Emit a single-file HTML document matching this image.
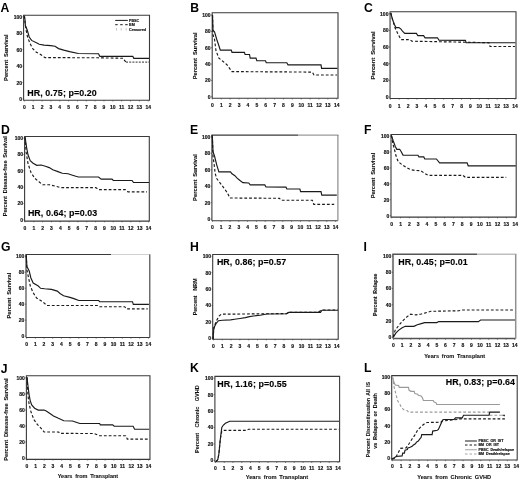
<!DOCTYPE html>
<html><head><meta charset="utf-8"><style>
html,body{margin:0;padding:0;background:#fff;width:520px;height:480px;overflow:hidden}
svg{display:block;will-change:transform}
text{font-family:"Liberation Sans", sans-serif}
</style></head><body>
<svg width="520" height="480" viewBox="0 0 520 480">

<g>
<path d="M23.6 15.3 H149.5 V100.3 H23.6 Z" fill="none" stroke="#3a3a3a" stroke-width="1.1"/>
<text x="22" y="100.97" font-size="5.0" text-anchor="end" font-weight="bold" fill="#111" stroke="#111" stroke-width="0.15">0</text>
<line x1="22.4" y1="99" x2="23.6" y2="99" stroke="#3a3a3a" stroke-width="0.6"/>
<text x="22" y="84.55" font-size="5.0" text-anchor="end" font-weight="bold" fill="#111" stroke="#111" stroke-width="0.15">20</text>
<line x1="22.4" y1="82.58" x2="23.6" y2="82.58" stroke="#3a3a3a" stroke-width="0.6"/>
<text x="22" y="68.13" font-size="5.0" text-anchor="end" font-weight="bold" fill="#111" stroke="#111" stroke-width="0.15">40</text>
<line x1="22.4" y1="66.16" x2="23.6" y2="66.16" stroke="#3a3a3a" stroke-width="0.6"/>
<text x="22" y="51.71" font-size="5.0" text-anchor="end" font-weight="bold" fill="#111" stroke="#111" stroke-width="0.15">60</text>
<line x1="22.4" y1="49.74" x2="23.6" y2="49.74" stroke="#3a3a3a" stroke-width="0.6"/>
<text x="22" y="35.29" font-size="5.0" text-anchor="end" font-weight="bold" fill="#111" stroke="#111" stroke-width="0.15">80</text>
<line x1="22.4" y1="33.32" x2="23.6" y2="33.32" stroke="#3a3a3a" stroke-width="0.6"/>
<text x="22" y="18.87" font-size="5.0" text-anchor="end" font-weight="bold" fill="#111" stroke="#111" stroke-width="0.15">100</text>
<line x1="22.4" y1="16.9" x2="23.6" y2="16.9" stroke="#3a3a3a" stroke-width="0.6"/>
<text x="24.4" y="108.87" font-size="5.0" text-anchor="middle" font-weight="bold" fill="#111" stroke="#111" stroke-width="0.15">0</text>
<line x1="24.4" y1="100.3" x2="24.4" y2="101.5" stroke="#3a3a3a" stroke-width="0.6"/>
<text x="33.24" y="108.87" font-size="5.0" text-anchor="middle" font-weight="bold" fill="#111" stroke="#111" stroke-width="0.15">1</text>
<line x1="33.24" y1="100.3" x2="33.24" y2="101.5" stroke="#3a3a3a" stroke-width="0.6"/>
<text x="42.08" y="108.87" font-size="5.0" text-anchor="middle" font-weight="bold" fill="#111" stroke="#111" stroke-width="0.15">2</text>
<line x1="42.08" y1="100.3" x2="42.08" y2="101.5" stroke="#3a3a3a" stroke-width="0.6"/>
<text x="50.92" y="108.87" font-size="5.0" text-anchor="middle" font-weight="bold" fill="#111" stroke="#111" stroke-width="0.15">3</text>
<line x1="50.92" y1="100.3" x2="50.92" y2="101.5" stroke="#3a3a3a" stroke-width="0.6"/>
<text x="59.76" y="108.87" font-size="5.0" text-anchor="middle" font-weight="bold" fill="#111" stroke="#111" stroke-width="0.15">4</text>
<line x1="59.76" y1="100.3" x2="59.76" y2="101.5" stroke="#3a3a3a" stroke-width="0.6"/>
<text x="68.6" y="108.87" font-size="5.0" text-anchor="middle" font-weight="bold" fill="#111" stroke="#111" stroke-width="0.15">5</text>
<line x1="68.6" y1="100.3" x2="68.6" y2="101.5" stroke="#3a3a3a" stroke-width="0.6"/>
<text x="77.44" y="108.87" font-size="5.0" text-anchor="middle" font-weight="bold" fill="#111" stroke="#111" stroke-width="0.15">6</text>
<line x1="77.44" y1="100.3" x2="77.44" y2="101.5" stroke="#3a3a3a" stroke-width="0.6"/>
<text x="86.28" y="108.87" font-size="5.0" text-anchor="middle" font-weight="bold" fill="#111" stroke="#111" stroke-width="0.15">7</text>
<line x1="86.28" y1="100.3" x2="86.28" y2="101.5" stroke="#3a3a3a" stroke-width="0.6"/>
<text x="95.12" y="108.87" font-size="5.0" text-anchor="middle" font-weight="bold" fill="#111" stroke="#111" stroke-width="0.15">8</text>
<line x1="95.12" y1="100.3" x2="95.12" y2="101.5" stroke="#3a3a3a" stroke-width="0.6"/>
<text x="103.96" y="108.87" font-size="5.0" text-anchor="middle" font-weight="bold" fill="#111" stroke="#111" stroke-width="0.15">9</text>
<line x1="103.96" y1="100.3" x2="103.96" y2="101.5" stroke="#3a3a3a" stroke-width="0.6"/>
<text x="112.8" y="108.87" font-size="5.0" text-anchor="middle" font-weight="bold" fill="#111" stroke="#111" stroke-width="0.15">10</text>
<line x1="112.8" y1="100.3" x2="112.8" y2="101.5" stroke="#3a3a3a" stroke-width="0.6"/>
<text x="121.64" y="108.87" font-size="5.0" text-anchor="middle" font-weight="bold" fill="#111" stroke="#111" stroke-width="0.15">11</text>
<line x1="121.64" y1="100.3" x2="121.64" y2="101.5" stroke="#3a3a3a" stroke-width="0.6"/>
<text x="130.48" y="108.87" font-size="5.0" text-anchor="middle" font-weight="bold" fill="#111" stroke="#111" stroke-width="0.15">12</text>
<line x1="130.48" y1="100.3" x2="130.48" y2="101.5" stroke="#3a3a3a" stroke-width="0.6"/>
<text x="139.32" y="108.87" font-size="5.0" text-anchor="middle" font-weight="bold" fill="#111" stroke="#111" stroke-width="0.15">13</text>
<line x1="139.32" y1="100.3" x2="139.32" y2="101.5" stroke="#3a3a3a" stroke-width="0.6"/>
<text x="148.16" y="108.87" font-size="5.0" text-anchor="middle" font-weight="bold" fill="#111" stroke="#111" stroke-width="0.15">14</text>
<line x1="148.16" y1="100.3" x2="148.16" y2="101.5" stroke="#3a3a3a" stroke-width="0.6"/>
<text x="0.6" y="11.5" font-size="12.2" text-anchor="start" font-weight="bold" fill="#000">A</text>
<text x="8.3" y="57.7" font-size="5.6" text-anchor="middle" font-weight="bold" fill="#111" transform="rotate(-90 8.3 57.7)" stroke="#111" stroke-width="0.1" textLength="46.6" lengthAdjust="spacingAndGlyphs" word-spacing="1.2">Percent Survival</text>
<text x="27.3" y="96.4" font-size="8.9" text-anchor="start" font-weight="bold" fill="#000" stroke="#000" stroke-width="0.12" letter-spacing="0.07">HR, 0.75; p=0.20</text>
<path d="M24.4 15.8 L25 20 L25.4 25.5 L27.3 30.3 L29.2 37 L31.6 40.4 L36.4 42.75 L39.25 44.2 L44 45.1 L50.75 45.6 L55 46.2 L58.6 48.6 L63.75 50.1 L69.6 51.6 L78.3 53.5 L98.5 53.8 L99.8 56.3 L132.8 56.3 L133.8 58.3 L149 58.3" fill="none" stroke="#1a1a1a" stroke-width="1.15" stroke-linejoin="miter" opacity="1.0"/>
<path d="M24.4 15.8 L25 22 L25.8 28.4 L27.3 36 L29.7 42.75 L32.5 48.5 L36.4 52.3 L40.2 54.25 L45 57.6 L98 57.8 L123.5 58.3 L124.5 60.4 L126 62.1" fill="none" stroke="#1a1a1a" stroke-width="1.15" stroke-dasharray="2.8 2.0" stroke-linejoin="miter" opacity="1.0"/>
<path d="M126 62.1 L149 62.1" fill="none" stroke="#5a5a5a" stroke-width="1.15" stroke-dasharray="2 1.2" stroke-linejoin="miter" opacity="1.0"/>
<path d="M212.2 12.8 H338 V98.3 H212.2 Z" fill="none" stroke="#3a3a3a" stroke-width="1.1"/>
<text x="210.6" y="98.72" font-size="5.0" text-anchor="end" font-weight="bold" fill="#111" stroke="#111" stroke-width="0.15">0</text>
<line x1="211" y1="96.75" x2="212.2" y2="96.75" stroke="#3a3a3a" stroke-width="0.6"/>
<text x="210.6" y="82.37" font-size="5.0" text-anchor="end" font-weight="bold" fill="#111" stroke="#111" stroke-width="0.15">20</text>
<line x1="211" y1="80.4" x2="212.2" y2="80.4" stroke="#3a3a3a" stroke-width="0.6"/>
<text x="210.6" y="66.02" font-size="5.0" text-anchor="end" font-weight="bold" fill="#111" stroke="#111" stroke-width="0.15">40</text>
<line x1="211" y1="64.05" x2="212.2" y2="64.05" stroke="#3a3a3a" stroke-width="0.6"/>
<text x="210.6" y="49.67" font-size="5.0" text-anchor="end" font-weight="bold" fill="#111" stroke="#111" stroke-width="0.15">60</text>
<line x1="211" y1="47.7" x2="212.2" y2="47.7" stroke="#3a3a3a" stroke-width="0.6"/>
<text x="210.6" y="33.32" font-size="5.0" text-anchor="end" font-weight="bold" fill="#111" stroke="#111" stroke-width="0.15">80</text>
<line x1="211" y1="31.35" x2="212.2" y2="31.35" stroke="#3a3a3a" stroke-width="0.6"/>
<text x="210.6" y="16.97" font-size="5.0" text-anchor="end" font-weight="bold" fill="#111" stroke="#111" stroke-width="0.15">100</text>
<line x1="211" y1="15" x2="212.2" y2="15" stroke="#3a3a3a" stroke-width="0.6"/>
<text x="212.4" y="107.27" font-size="5.0" text-anchor="middle" font-weight="bold" fill="#111" stroke="#111" stroke-width="0.15">0</text>
<line x1="212.4" y1="98.3" x2="212.4" y2="99.5" stroke="#3a3a3a" stroke-width="0.6"/>
<text x="221.28" y="107.27" font-size="5.0" text-anchor="middle" font-weight="bold" fill="#111" stroke="#111" stroke-width="0.15">1</text>
<line x1="221.28" y1="98.3" x2="221.28" y2="99.5" stroke="#3a3a3a" stroke-width="0.6"/>
<text x="230.16" y="107.27" font-size="5.0" text-anchor="middle" font-weight="bold" fill="#111" stroke="#111" stroke-width="0.15">2</text>
<line x1="230.16" y1="98.3" x2="230.16" y2="99.5" stroke="#3a3a3a" stroke-width="0.6"/>
<text x="239.04" y="107.27" font-size="5.0" text-anchor="middle" font-weight="bold" fill="#111" stroke="#111" stroke-width="0.15">3</text>
<line x1="239.04" y1="98.3" x2="239.04" y2="99.5" stroke="#3a3a3a" stroke-width="0.6"/>
<text x="247.92" y="107.27" font-size="5.0" text-anchor="middle" font-weight="bold" fill="#111" stroke="#111" stroke-width="0.15">4</text>
<line x1="247.92" y1="98.3" x2="247.92" y2="99.5" stroke="#3a3a3a" stroke-width="0.6"/>
<text x="256.8" y="107.27" font-size="5.0" text-anchor="middle" font-weight="bold" fill="#111" stroke="#111" stroke-width="0.15">5</text>
<line x1="256.8" y1="98.3" x2="256.8" y2="99.5" stroke="#3a3a3a" stroke-width="0.6"/>
<text x="265.68" y="107.27" font-size="5.0" text-anchor="middle" font-weight="bold" fill="#111" stroke="#111" stroke-width="0.15">6</text>
<line x1="265.68" y1="98.3" x2="265.68" y2="99.5" stroke="#3a3a3a" stroke-width="0.6"/>
<text x="274.56" y="107.27" font-size="5.0" text-anchor="middle" font-weight="bold" fill="#111" stroke="#111" stroke-width="0.15">7</text>
<line x1="274.56" y1="98.3" x2="274.56" y2="99.5" stroke="#3a3a3a" stroke-width="0.6"/>
<text x="283.44" y="107.27" font-size="5.0" text-anchor="middle" font-weight="bold" fill="#111" stroke="#111" stroke-width="0.15">8</text>
<line x1="283.44" y1="98.3" x2="283.44" y2="99.5" stroke="#3a3a3a" stroke-width="0.6"/>
<text x="292.32" y="107.27" font-size="5.0" text-anchor="middle" font-weight="bold" fill="#111" stroke="#111" stroke-width="0.15">9</text>
<line x1="292.32" y1="98.3" x2="292.32" y2="99.5" stroke="#3a3a3a" stroke-width="0.6"/>
<text x="301.2" y="107.27" font-size="5.0" text-anchor="middle" font-weight="bold" fill="#111" stroke="#111" stroke-width="0.15">10</text>
<line x1="301.2" y1="98.3" x2="301.2" y2="99.5" stroke="#3a3a3a" stroke-width="0.6"/>
<text x="310.08" y="107.27" font-size="5.0" text-anchor="middle" font-weight="bold" fill="#111" stroke="#111" stroke-width="0.15">11</text>
<line x1="310.08" y1="98.3" x2="310.08" y2="99.5" stroke="#3a3a3a" stroke-width="0.6"/>
<text x="318.96" y="107.27" font-size="5.0" text-anchor="middle" font-weight="bold" fill="#111" stroke="#111" stroke-width="0.15">12</text>
<line x1="318.96" y1="98.3" x2="318.96" y2="99.5" stroke="#3a3a3a" stroke-width="0.6"/>
<text x="327.84" y="107.27" font-size="5.0" text-anchor="middle" font-weight="bold" fill="#111" stroke="#111" stroke-width="0.15">13</text>
<line x1="327.84" y1="98.3" x2="327.84" y2="99.5" stroke="#3a3a3a" stroke-width="0.6"/>
<text x="336.72" y="107.27" font-size="5.0" text-anchor="middle" font-weight="bold" fill="#111" stroke="#111" stroke-width="0.15">14</text>
<line x1="336.72" y1="98.3" x2="336.72" y2="99.5" stroke="#3a3a3a" stroke-width="0.6"/>
<text x="190.3" y="12.1" font-size="12.2" text-anchor="start" font-weight="bold" fill="#000">B</text>
<text x="196.75" y="55.85" font-size="5.6" text-anchor="middle" font-weight="bold" fill="#111" transform="rotate(-90 196.75 55.85)" stroke="#111" stroke-width="0.1" textLength="46.9" lengthAdjust="spacingAndGlyphs" word-spacing="1.2">Percent Survival</text>
<path d="M212.5 15 L213 30.4 L214.5 31.9 L216.7 39.2 L218.9 45.7 L220.3 50.1 L231.25 50.1 L232 52.3 L244.4 52.3 L245.1 54.5 L249.5 54.5 L250.2 58.1 L256 58.1 L256.8 60.75 L265.5 60.75 L266.25 62.7 L286.8 62.7 L288 64.8 L321 64.8 L321.6 68.4 L337.4 68.4" fill="none" stroke="#1a1a1a" stroke-width="1.15" stroke-linejoin="miter" opacity="1.0"/>
<path d="M212.5 15 L213 34.8 L214.5 39.2 L216 50.8 L218.9 58.1 L222.5 61 L226.9 64.7 L232 71.6 L312.3 72.1 L314 75 L337 75" fill="none" stroke="#1a1a1a" stroke-width="1.15" stroke-dasharray="2.8 2.0" stroke-linejoin="miter" opacity="1.0"/>
<path d="M390.05 11.75 H516 V98.5 H390.05 Z" fill="none" stroke="#3a3a3a" stroke-width="1.1"/>
<text x="388.45" y="98.97" font-size="5.0" text-anchor="end" font-weight="bold" fill="#111" stroke="#111" stroke-width="0.15">0</text>
<line x1="388.85" y1="97" x2="390.05" y2="97" stroke="#3a3a3a" stroke-width="0.6"/>
<text x="388.45" y="82.33" font-size="5.0" text-anchor="end" font-weight="bold" fill="#111" stroke="#111" stroke-width="0.15">20</text>
<line x1="388.85" y1="80.36" x2="390.05" y2="80.36" stroke="#3a3a3a" stroke-width="0.6"/>
<text x="388.45" y="65.69" font-size="5.0" text-anchor="end" font-weight="bold" fill="#111" stroke="#111" stroke-width="0.15">40</text>
<line x1="388.85" y1="63.72" x2="390.05" y2="63.72" stroke="#3a3a3a" stroke-width="0.6"/>
<text x="388.45" y="49.05" font-size="5.0" text-anchor="end" font-weight="bold" fill="#111" stroke="#111" stroke-width="0.15">60</text>
<line x1="388.85" y1="47.08" x2="390.05" y2="47.08" stroke="#3a3a3a" stroke-width="0.6"/>
<text x="388.45" y="32.41" font-size="5.0" text-anchor="end" font-weight="bold" fill="#111" stroke="#111" stroke-width="0.15">80</text>
<line x1="388.85" y1="30.44" x2="390.05" y2="30.44" stroke="#3a3a3a" stroke-width="0.6"/>
<text x="388.45" y="15.77" font-size="5.0" text-anchor="end" font-weight="bold" fill="#111" stroke="#111" stroke-width="0.15">100</text>
<line x1="388.85" y1="13.8" x2="390.05" y2="13.8" stroke="#3a3a3a" stroke-width="0.6"/>
<text x="390.25" y="107.77" font-size="5.0" text-anchor="middle" font-weight="bold" fill="#111" stroke="#111" stroke-width="0.15">0</text>
<line x1="390.25" y1="98.5" x2="390.25" y2="99.7" stroke="#3a3a3a" stroke-width="0.6"/>
<text x="399.16" y="107.77" font-size="5.0" text-anchor="middle" font-weight="bold" fill="#111" stroke="#111" stroke-width="0.15">1</text>
<line x1="399.16" y1="98.5" x2="399.16" y2="99.7" stroke="#3a3a3a" stroke-width="0.6"/>
<text x="408.07" y="107.77" font-size="5.0" text-anchor="middle" font-weight="bold" fill="#111" stroke="#111" stroke-width="0.15">2</text>
<line x1="408.07" y1="98.5" x2="408.07" y2="99.7" stroke="#3a3a3a" stroke-width="0.6"/>
<text x="416.98" y="107.77" font-size="5.0" text-anchor="middle" font-weight="bold" fill="#111" stroke="#111" stroke-width="0.15">3</text>
<line x1="416.98" y1="98.5" x2="416.98" y2="99.7" stroke="#3a3a3a" stroke-width="0.6"/>
<text x="425.89" y="107.77" font-size="5.0" text-anchor="middle" font-weight="bold" fill="#111" stroke="#111" stroke-width="0.15">4</text>
<line x1="425.89" y1="98.5" x2="425.89" y2="99.7" stroke="#3a3a3a" stroke-width="0.6"/>
<text x="434.8" y="107.77" font-size="5.0" text-anchor="middle" font-weight="bold" fill="#111" stroke="#111" stroke-width="0.15">5</text>
<line x1="434.8" y1="98.5" x2="434.8" y2="99.7" stroke="#3a3a3a" stroke-width="0.6"/>
<text x="443.71" y="107.77" font-size="5.0" text-anchor="middle" font-weight="bold" fill="#111" stroke="#111" stroke-width="0.15">6</text>
<line x1="443.71" y1="98.5" x2="443.71" y2="99.7" stroke="#3a3a3a" stroke-width="0.6"/>
<text x="452.62" y="107.77" font-size="5.0" text-anchor="middle" font-weight="bold" fill="#111" stroke="#111" stroke-width="0.15">7</text>
<line x1="452.62" y1="98.5" x2="452.62" y2="99.7" stroke="#3a3a3a" stroke-width="0.6"/>
<text x="461.53" y="107.77" font-size="5.0" text-anchor="middle" font-weight="bold" fill="#111" stroke="#111" stroke-width="0.15">8</text>
<line x1="461.53" y1="98.5" x2="461.53" y2="99.7" stroke="#3a3a3a" stroke-width="0.6"/>
<text x="470.44" y="107.77" font-size="5.0" text-anchor="middle" font-weight="bold" fill="#111" stroke="#111" stroke-width="0.15">9</text>
<line x1="470.44" y1="98.5" x2="470.44" y2="99.7" stroke="#3a3a3a" stroke-width="0.6"/>
<text x="479.35" y="107.77" font-size="5.0" text-anchor="middle" font-weight="bold" fill="#111" stroke="#111" stroke-width="0.15">10</text>
<line x1="479.35" y1="98.5" x2="479.35" y2="99.7" stroke="#3a3a3a" stroke-width="0.6"/>
<text x="488.26" y="107.77" font-size="5.0" text-anchor="middle" font-weight="bold" fill="#111" stroke="#111" stroke-width="0.15">11</text>
<line x1="488.26" y1="98.5" x2="488.26" y2="99.7" stroke="#3a3a3a" stroke-width="0.6"/>
<text x="497.17" y="107.77" font-size="5.0" text-anchor="middle" font-weight="bold" fill="#111" stroke="#111" stroke-width="0.15">12</text>
<line x1="497.17" y1="98.5" x2="497.17" y2="99.7" stroke="#3a3a3a" stroke-width="0.6"/>
<text x="506.08" y="107.77" font-size="5.0" text-anchor="middle" font-weight="bold" fill="#111" stroke="#111" stroke-width="0.15">13</text>
<line x1="506.08" y1="98.5" x2="506.08" y2="99.7" stroke="#3a3a3a" stroke-width="0.6"/>
<text x="514.99" y="107.77" font-size="5.0" text-anchor="middle" font-weight="bold" fill="#111" stroke="#111" stroke-width="0.15">14</text>
<line x1="514.99" y1="98.5" x2="514.99" y2="99.7" stroke="#3a3a3a" stroke-width="0.6"/>
<text x="363.9" y="12.1" font-size="12.2" text-anchor="start" font-weight="bold" fill="#000">C</text>
<text x="374.75" y="55.5" font-size="5.6" text-anchor="middle" font-weight="bold" fill="#111" transform="rotate(-90 374.75 55.5)" stroke="#111" stroke-width="0.1" textLength="48.2" lengthAdjust="spacingAndGlyphs" word-spacing="1.2">Percent Survival</text>
<path d="M390.8 13 L392.3 18.9 L394.5 24.7 L396 27.6 L398.9 27.6 L401 29.1 L402.5 31.25 L404.7 33.4 L416.4 33.4 L417.8 35.6 L423.6 35.6 L425.1 37.8 L437.5 37.8 L439 40.3 L465.4 40.4 L466.2 42.7 L515.4 42.7" fill="none" stroke="#1a1a1a" stroke-width="1.15" stroke-linejoin="miter" opacity="1.0"/>
<path d="M390.8 13 L393 21 L395.2 28.3 L398.1 34.2 L401 39.6 L409.8 39.6 L412 41.2 L465 42.2 L489 42.7 L490 46.5 L515 46.5" fill="none" stroke="#1a1a1a" stroke-width="1.15" stroke-dasharray="2.8 2.0" stroke-linejoin="miter" opacity="1.0"/>
<path d="M24.6 136.45 H149.3 V221.15 H24.6 Z" fill="none" stroke="#3a3a3a" stroke-width="1.1"/>
<text x="23" y="221.77" font-size="5.0" text-anchor="end" font-weight="bold" fill="#111" stroke="#111" stroke-width="0.15">0</text>
<line x1="23.4" y1="219.8" x2="24.6" y2="219.8" stroke="#3a3a3a" stroke-width="0.6"/>
<text x="23" y="205.44" font-size="5.0" text-anchor="end" font-weight="bold" fill="#111" stroke="#111" stroke-width="0.15">20</text>
<line x1="23.4" y1="203.47" x2="24.6" y2="203.47" stroke="#3a3a3a" stroke-width="0.6"/>
<text x="23" y="189.11" font-size="5.0" text-anchor="end" font-weight="bold" fill="#111" stroke="#111" stroke-width="0.15">40</text>
<line x1="23.4" y1="187.14" x2="24.6" y2="187.14" stroke="#3a3a3a" stroke-width="0.6"/>
<text x="23" y="172.78" font-size="5.0" text-anchor="end" font-weight="bold" fill="#111" stroke="#111" stroke-width="0.15">60</text>
<line x1="23.4" y1="170.81" x2="24.6" y2="170.81" stroke="#3a3a3a" stroke-width="0.6"/>
<text x="23" y="156.45" font-size="5.0" text-anchor="end" font-weight="bold" fill="#111" stroke="#111" stroke-width="0.15">80</text>
<line x1="23.4" y1="154.48" x2="24.6" y2="154.48" stroke="#3a3a3a" stroke-width="0.6"/>
<text x="23" y="140.12" font-size="5.0" text-anchor="end" font-weight="bold" fill="#111" stroke="#111" stroke-width="0.15">100</text>
<line x1="23.4" y1="138.15" x2="24.6" y2="138.15" stroke="#3a3a3a" stroke-width="0.6"/>
<text x="25" y="230.07" font-size="5.0" text-anchor="middle" font-weight="bold" fill="#111" stroke="#111" stroke-width="0.15">0</text>
<line x1="25" y1="221.15" x2="25" y2="222.35" stroke="#3a3a3a" stroke-width="0.6"/>
<text x="33.82" y="230.07" font-size="5.0" text-anchor="middle" font-weight="bold" fill="#111" stroke="#111" stroke-width="0.15">1</text>
<line x1="33.82" y1="221.15" x2="33.82" y2="222.35" stroke="#3a3a3a" stroke-width="0.6"/>
<text x="42.64" y="230.07" font-size="5.0" text-anchor="middle" font-weight="bold" fill="#111" stroke="#111" stroke-width="0.15">2</text>
<line x1="42.64" y1="221.15" x2="42.64" y2="222.35" stroke="#3a3a3a" stroke-width="0.6"/>
<text x="51.46" y="230.07" font-size="5.0" text-anchor="middle" font-weight="bold" fill="#111" stroke="#111" stroke-width="0.15">3</text>
<line x1="51.46" y1="221.15" x2="51.46" y2="222.35" stroke="#3a3a3a" stroke-width="0.6"/>
<text x="60.28" y="230.07" font-size="5.0" text-anchor="middle" font-weight="bold" fill="#111" stroke="#111" stroke-width="0.15">4</text>
<line x1="60.28" y1="221.15" x2="60.28" y2="222.35" stroke="#3a3a3a" stroke-width="0.6"/>
<text x="69.1" y="230.07" font-size="5.0" text-anchor="middle" font-weight="bold" fill="#111" stroke="#111" stroke-width="0.15">5</text>
<line x1="69.1" y1="221.15" x2="69.1" y2="222.35" stroke="#3a3a3a" stroke-width="0.6"/>
<text x="77.92" y="230.07" font-size="5.0" text-anchor="middle" font-weight="bold" fill="#111" stroke="#111" stroke-width="0.15">6</text>
<line x1="77.92" y1="221.15" x2="77.92" y2="222.35" stroke="#3a3a3a" stroke-width="0.6"/>
<text x="86.74" y="230.07" font-size="5.0" text-anchor="middle" font-weight="bold" fill="#111" stroke="#111" stroke-width="0.15">7</text>
<line x1="86.74" y1="221.15" x2="86.74" y2="222.35" stroke="#3a3a3a" stroke-width="0.6"/>
<text x="95.56" y="230.07" font-size="5.0" text-anchor="middle" font-weight="bold" fill="#111" stroke="#111" stroke-width="0.15">8</text>
<line x1="95.56" y1="221.15" x2="95.56" y2="222.35" stroke="#3a3a3a" stroke-width="0.6"/>
<text x="104.38" y="230.07" font-size="5.0" text-anchor="middle" font-weight="bold" fill="#111" stroke="#111" stroke-width="0.15">9</text>
<line x1="104.38" y1="221.15" x2="104.38" y2="222.35" stroke="#3a3a3a" stroke-width="0.6"/>
<text x="113.2" y="230.07" font-size="5.0" text-anchor="middle" font-weight="bold" fill="#111" stroke="#111" stroke-width="0.15">10</text>
<line x1="113.2" y1="221.15" x2="113.2" y2="222.35" stroke="#3a3a3a" stroke-width="0.6"/>
<text x="122.02" y="230.07" font-size="5.0" text-anchor="middle" font-weight="bold" fill="#111" stroke="#111" stroke-width="0.15">11</text>
<line x1="122.02" y1="221.15" x2="122.02" y2="222.35" stroke="#3a3a3a" stroke-width="0.6"/>
<text x="130.84" y="230.07" font-size="5.0" text-anchor="middle" font-weight="bold" fill="#111" stroke="#111" stroke-width="0.15">12</text>
<line x1="130.84" y1="221.15" x2="130.84" y2="222.35" stroke="#3a3a3a" stroke-width="0.6"/>
<text x="139.66" y="230.07" font-size="5.0" text-anchor="middle" font-weight="bold" fill="#111" stroke="#111" stroke-width="0.15">13</text>
<line x1="139.66" y1="221.15" x2="139.66" y2="222.35" stroke="#3a3a3a" stroke-width="0.6"/>
<text x="148.48" y="230.07" font-size="5.0" text-anchor="middle" font-weight="bold" fill="#111" stroke="#111" stroke-width="0.15">14</text>
<line x1="148.48" y1="221.15" x2="148.48" y2="222.35" stroke="#3a3a3a" stroke-width="0.6"/>
<text x="1" y="134.1" font-size="12.2" text-anchor="start" font-weight="bold" fill="#000">D</text>
<text x="7.5" y="176.3" font-size="5.6" text-anchor="middle" font-weight="bold" fill="#111" transform="rotate(-90 7.5 176.3)" stroke="#111" stroke-width="0.1" textLength="80" lengthAdjust="spacingAndGlyphs" word-spacing="1.2">Percent Disease-free Survival</text>
<text x="27.9" y="216.4" font-size="8.9" text-anchor="start" font-weight="bold" fill="#000" stroke="#000" stroke-width="0.12" letter-spacing="0.07">HR, 0.64; p=0.03</text>
<path d="M25.1 137.3 L26.6 147.5 L28 154.8 L30.2 160.6 L33.1 163.25 L36.8 165.3 L41.1 165 L45.5 166.2 L49.2 167.6 L52.8 169.7 L57.9 171.6 L62.3 173.3 L68.1 173.75 L72.5 175.2 L78.3 177 L98.5 177 L101.2 179.1 L112 179.1 L113.3 180.5 L132.1 180.5 L133.5 182.5 L149 182.5" fill="none" stroke="#1a1a1a" stroke-width="1.15" stroke-linejoin="miter" opacity="1.0"/>
<path d="M25.1 137.3 L26.1 151.9 L28 163.5 L30.9 172.3 L34.6 178.1 L39 181.8 L42.6 184.7 L49.2 184.7 L55 186.1 L60.8 187.6 L95.8 187.6 L98.5 189.6 L125.4 189.6 L128 191.9 L147 191.9" fill="none" stroke="#1a1a1a" stroke-width="1.15" stroke-dasharray="2.8 2.0" stroke-linejoin="miter" opacity="1.0"/>
<path d="M337.9 220.7 H211.9" fill="none" stroke="#3a3a3a" stroke-width="1.1"/>
<path d="M211.9 220.7 V135.1" fill="none" stroke="#3a3a3a" stroke-width="1.1"/>
<path d="M211.35 135.1 H298" fill="none" stroke="#3a3a3a" stroke-width="1.1"/>
<path d="M298 135.1 H338.45" fill="none" stroke="#9a9a9a" stroke-width="1.1"/>
<path d="M337.9 135.1 V220.7" fill="none" stroke="#808080" stroke-width="1.1"/>
<text x="210.3" y="221.07" font-size="5.0" text-anchor="end" font-weight="bold" fill="#111" stroke="#111" stroke-width="0.15">0</text>
<line x1="210.7" y1="219.1" x2="211.9" y2="219.1" stroke="#3a3a3a" stroke-width="0.6"/>
<text x="210.3" y="204.62" font-size="5.0" text-anchor="end" font-weight="bold" fill="#111" stroke="#111" stroke-width="0.15">20</text>
<line x1="210.7" y1="202.65" x2="211.9" y2="202.65" stroke="#3a3a3a" stroke-width="0.6"/>
<text x="210.3" y="188.17" font-size="5.0" text-anchor="end" font-weight="bold" fill="#111" stroke="#111" stroke-width="0.15">40</text>
<line x1="210.7" y1="186.2" x2="211.9" y2="186.2" stroke="#3a3a3a" stroke-width="0.6"/>
<text x="210.3" y="171.72" font-size="5.0" text-anchor="end" font-weight="bold" fill="#111" stroke="#111" stroke-width="0.15">60</text>
<line x1="210.7" y1="169.75" x2="211.9" y2="169.75" stroke="#3a3a3a" stroke-width="0.6"/>
<text x="210.3" y="155.27" font-size="5.0" text-anchor="end" font-weight="bold" fill="#111" stroke="#111" stroke-width="0.15">80</text>
<line x1="210.7" y1="153.3" x2="211.9" y2="153.3" stroke="#3a3a3a" stroke-width="0.6"/>
<text x="210.3" y="138.82" font-size="5.0" text-anchor="end" font-weight="bold" fill="#111" stroke="#111" stroke-width="0.15">100</text>
<line x1="210.7" y1="136.85" x2="211.9" y2="136.85" stroke="#3a3a3a" stroke-width="0.6"/>
<text x="212.4" y="229.47" font-size="5.0" text-anchor="middle" font-weight="bold" fill="#111" stroke="#111" stroke-width="0.15">0</text>
<line x1="212.4" y1="220.7" x2="212.4" y2="221.9" stroke="#3a3a3a" stroke-width="0.6"/>
<text x="221.2" y="229.47" font-size="5.0" text-anchor="middle" font-weight="bold" fill="#111" stroke="#111" stroke-width="0.15">1</text>
<line x1="221.2" y1="220.7" x2="221.2" y2="221.9" stroke="#3a3a3a" stroke-width="0.6"/>
<text x="230" y="229.47" font-size="5.0" text-anchor="middle" font-weight="bold" fill="#111" stroke="#111" stroke-width="0.15">2</text>
<line x1="230" y1="220.7" x2="230" y2="221.9" stroke="#3a3a3a" stroke-width="0.6"/>
<text x="238.8" y="229.47" font-size="5.0" text-anchor="middle" font-weight="bold" fill="#111" stroke="#111" stroke-width="0.15">3</text>
<line x1="238.8" y1="220.7" x2="238.8" y2="221.9" stroke="#3a3a3a" stroke-width="0.6"/>
<text x="247.6" y="229.47" font-size="5.0" text-anchor="middle" font-weight="bold" fill="#111" stroke="#111" stroke-width="0.15">4</text>
<line x1="247.6" y1="220.7" x2="247.6" y2="221.9" stroke="#3a3a3a" stroke-width="0.6"/>
<text x="256.4" y="229.47" font-size="5.0" text-anchor="middle" font-weight="bold" fill="#111" stroke="#111" stroke-width="0.15">5</text>
<line x1="256.4" y1="220.7" x2="256.4" y2="221.9" stroke="#3a3a3a" stroke-width="0.6"/>
<text x="265.2" y="229.47" font-size="5.0" text-anchor="middle" font-weight="bold" fill="#111" stroke="#111" stroke-width="0.15">6</text>
<line x1="265.2" y1="220.7" x2="265.2" y2="221.9" stroke="#3a3a3a" stroke-width="0.6"/>
<text x="274" y="229.47" font-size="5.0" text-anchor="middle" font-weight="bold" fill="#111" stroke="#111" stroke-width="0.15">7</text>
<line x1="274" y1="220.7" x2="274" y2="221.9" stroke="#3a3a3a" stroke-width="0.6"/>
<text x="282.8" y="229.47" font-size="5.0" text-anchor="middle" font-weight="bold" fill="#111" stroke="#111" stroke-width="0.15">8</text>
<line x1="282.8" y1="220.7" x2="282.8" y2="221.9" stroke="#3a3a3a" stroke-width="0.6"/>
<text x="291.6" y="229.47" font-size="5.0" text-anchor="middle" font-weight="bold" fill="#111" stroke="#111" stroke-width="0.15">9</text>
<line x1="291.6" y1="220.7" x2="291.6" y2="221.9" stroke="#3a3a3a" stroke-width="0.6"/>
<text x="300.4" y="229.47" font-size="5.0" text-anchor="middle" font-weight="bold" fill="#111" stroke="#111" stroke-width="0.15">10</text>
<line x1="300.4" y1="220.7" x2="300.4" y2="221.9" stroke="#3a3a3a" stroke-width="0.6"/>
<text x="309.2" y="229.47" font-size="5.0" text-anchor="middle" font-weight="bold" fill="#111" stroke="#111" stroke-width="0.15">11</text>
<line x1="309.2" y1="220.7" x2="309.2" y2="221.9" stroke="#3a3a3a" stroke-width="0.6"/>
<text x="318" y="229.47" font-size="5.0" text-anchor="middle" font-weight="bold" fill="#111" stroke="#111" stroke-width="0.15">12</text>
<line x1="318" y1="220.7" x2="318" y2="221.9" stroke="#3a3a3a" stroke-width="0.6"/>
<text x="326.8" y="229.47" font-size="5.0" text-anchor="middle" font-weight="bold" fill="#111" stroke="#111" stroke-width="0.15">13</text>
<line x1="326.8" y1="220.7" x2="326.8" y2="221.9" stroke="#3a3a3a" stroke-width="0.6"/>
<text x="335.6" y="229.47" font-size="5.0" text-anchor="middle" font-weight="bold" fill="#111" stroke="#111" stroke-width="0.15">14</text>
<line x1="335.6" y1="220.7" x2="335.6" y2="221.9" stroke="#3a3a3a" stroke-width="0.6"/>
<text x="190.1" y="134.1" font-size="12.2" text-anchor="start" font-weight="bold" fill="#000">E</text>
<text x="196.75" y="177.5" font-size="5.6" text-anchor="middle" font-weight="bold" fill="#111" transform="rotate(-90 196.75 177.5)" stroke="#111" stroke-width="0.1" textLength="46.9" lengthAdjust="spacingAndGlyphs" word-spacing="1.2">Percent Survival</text>
<path d="M212.3 135.4 L213 151.7 L214.5 156 L216.7 164.8 L218.9 171.8 L230.5 171.8 L232 173.8 L234.9 175.7 L237.1 178.2 L240 180.5 L242.9 182.6 L248.75 183 L250.2 184.9 L264.8 184.9 L266 187 L286 187.1 L286.8 189 L299.9 189 L300.6 191.6 L321 191.6 L321.8 195.1 L336.8 195.1" fill="none" stroke="#1a1a1a" stroke-width="1.15" stroke-linejoin="miter" opacity="1.0"/>
<path d="M212.3 135.4 L213 156 L214 163.3 L215.2 173.5 L216.7 178.6 L219.6 182.3 L224 188.1 L227.6 193.2 L229.8 198 L279.5 198.3 L281 200.2 L312.3 200.2 L313.75 204.3 L334.2 204.3" fill="none" stroke="#1a1a1a" stroke-width="1.15" stroke-dasharray="2.8 2.0" stroke-linejoin="miter" opacity="1.0"/>
<path d="M391 134.45 H516.2 V217.15 H391 Z" fill="none" stroke="#3a3a3a" stroke-width="1.1"/>
<text x="389.4" y="217.67" font-size="5.0" text-anchor="end" font-weight="bold" fill="#111" stroke="#111" stroke-width="0.15">0</text>
<line x1="389.8" y1="215.7" x2="391" y2="215.7" stroke="#3a3a3a" stroke-width="0.6"/>
<text x="389.4" y="201.75" font-size="5.0" text-anchor="end" font-weight="bold" fill="#111" stroke="#111" stroke-width="0.15">20</text>
<line x1="389.8" y1="199.78" x2="391" y2="199.78" stroke="#3a3a3a" stroke-width="0.6"/>
<text x="389.4" y="185.83" font-size="5.0" text-anchor="end" font-weight="bold" fill="#111" stroke="#111" stroke-width="0.15">40</text>
<line x1="389.8" y1="183.86" x2="391" y2="183.86" stroke="#3a3a3a" stroke-width="0.6"/>
<text x="389.4" y="169.91" font-size="5.0" text-anchor="end" font-weight="bold" fill="#111" stroke="#111" stroke-width="0.15">60</text>
<line x1="389.8" y1="167.94" x2="391" y2="167.94" stroke="#3a3a3a" stroke-width="0.6"/>
<text x="389.4" y="153.99" font-size="5.0" text-anchor="end" font-weight="bold" fill="#111" stroke="#111" stroke-width="0.15">80</text>
<line x1="389.8" y1="152.02" x2="391" y2="152.02" stroke="#3a3a3a" stroke-width="0.6"/>
<text x="389.4" y="138.07" font-size="5.0" text-anchor="end" font-weight="bold" fill="#111" stroke="#111" stroke-width="0.15">100</text>
<line x1="389.8" y1="136.1" x2="391" y2="136.1" stroke="#3a3a3a" stroke-width="0.6"/>
<text x="391.7" y="225.67" font-size="5.0" text-anchor="middle" font-weight="bold" fill="#111" stroke="#111" stroke-width="0.15">0</text>
<line x1="391.7" y1="217.15" x2="391.7" y2="218.35" stroke="#3a3a3a" stroke-width="0.6"/>
<text x="400.52" y="225.67" font-size="5.0" text-anchor="middle" font-weight="bold" fill="#111" stroke="#111" stroke-width="0.15">1</text>
<line x1="400.52" y1="217.15" x2="400.52" y2="218.35" stroke="#3a3a3a" stroke-width="0.6"/>
<text x="409.34" y="225.67" font-size="5.0" text-anchor="middle" font-weight="bold" fill="#111" stroke="#111" stroke-width="0.15">2</text>
<line x1="409.34" y1="217.15" x2="409.34" y2="218.35" stroke="#3a3a3a" stroke-width="0.6"/>
<text x="418.16" y="225.67" font-size="5.0" text-anchor="middle" font-weight="bold" fill="#111" stroke="#111" stroke-width="0.15">3</text>
<line x1="418.16" y1="217.15" x2="418.16" y2="218.35" stroke="#3a3a3a" stroke-width="0.6"/>
<text x="426.98" y="225.67" font-size="5.0" text-anchor="middle" font-weight="bold" fill="#111" stroke="#111" stroke-width="0.15">4</text>
<line x1="426.98" y1="217.15" x2="426.98" y2="218.35" stroke="#3a3a3a" stroke-width="0.6"/>
<text x="435.8" y="225.67" font-size="5.0" text-anchor="middle" font-weight="bold" fill="#111" stroke="#111" stroke-width="0.15">5</text>
<line x1="435.8" y1="217.15" x2="435.8" y2="218.35" stroke="#3a3a3a" stroke-width="0.6"/>
<text x="444.62" y="225.67" font-size="5.0" text-anchor="middle" font-weight="bold" fill="#111" stroke="#111" stroke-width="0.15">6</text>
<line x1="444.62" y1="217.15" x2="444.62" y2="218.35" stroke="#3a3a3a" stroke-width="0.6"/>
<text x="453.44" y="225.67" font-size="5.0" text-anchor="middle" font-weight="bold" fill="#111" stroke="#111" stroke-width="0.15">7</text>
<line x1="453.44" y1="217.15" x2="453.44" y2="218.35" stroke="#3a3a3a" stroke-width="0.6"/>
<text x="462.26" y="225.67" font-size="5.0" text-anchor="middle" font-weight="bold" fill="#111" stroke="#111" stroke-width="0.15">8</text>
<line x1="462.26" y1="217.15" x2="462.26" y2="218.35" stroke="#3a3a3a" stroke-width="0.6"/>
<text x="471.08" y="225.67" font-size="5.0" text-anchor="middle" font-weight="bold" fill="#111" stroke="#111" stroke-width="0.15">9</text>
<line x1="471.08" y1="217.15" x2="471.08" y2="218.35" stroke="#3a3a3a" stroke-width="0.6"/>
<text x="479.9" y="225.67" font-size="5.0" text-anchor="middle" font-weight="bold" fill="#111" stroke="#111" stroke-width="0.15">10</text>
<line x1="479.9" y1="217.15" x2="479.9" y2="218.35" stroke="#3a3a3a" stroke-width="0.6"/>
<text x="488.72" y="225.67" font-size="5.0" text-anchor="middle" font-weight="bold" fill="#111" stroke="#111" stroke-width="0.15">11</text>
<line x1="488.72" y1="217.15" x2="488.72" y2="218.35" stroke="#3a3a3a" stroke-width="0.6"/>
<text x="497.54" y="225.67" font-size="5.0" text-anchor="middle" font-weight="bold" fill="#111" stroke="#111" stroke-width="0.15">12</text>
<line x1="497.54" y1="217.15" x2="497.54" y2="218.35" stroke="#3a3a3a" stroke-width="0.6"/>
<text x="506.36" y="225.67" font-size="5.0" text-anchor="middle" font-weight="bold" fill="#111" stroke="#111" stroke-width="0.15">13</text>
<line x1="506.36" y1="217.15" x2="506.36" y2="218.35" stroke="#3a3a3a" stroke-width="0.6"/>
<text x="515.18" y="225.67" font-size="5.0" text-anchor="middle" font-weight="bold" fill="#111" stroke="#111" stroke-width="0.15">14</text>
<line x1="515.18" y1="217.15" x2="515.18" y2="218.35" stroke="#3a3a3a" stroke-width="0.6"/>
<text x="363.9" y="134.1" font-size="12.2" text-anchor="start" font-weight="bold" fill="#000">F</text>
<text x="375" y="175.5" font-size="5.6" text-anchor="middle" font-weight="bold" fill="#111" transform="rotate(-90 375 175.5)" stroke="#111" stroke-width="0.1" textLength="45.6" lengthAdjust="spacingAndGlyphs" word-spacing="1.2">Percent Survival</text>
<path d="M391.4 135.4 L393.1 140.5 L395.3 146.4 L396.8 149.3 L399.7 149.3 L401.1 151.5 L403 155.1 L418 155.2 L418.9 156.9 L423.75 156.9 L424.8 159 L436.4 159 L439.6 162.8 L467.1 162.8 L468.2 165.8 L515.8 165.8" fill="none" stroke="#1a1a1a" stroke-width="1.15" stroke-linejoin="miter" opacity="1.0"/>
<path d="M391.4 135.4 L392.8 143.4 L394.6 150 L396 155.8 L398.2 161.7 L401.9 164.6 L406.25 167.5 L410.6 169.7 L415 170.4 L420.6 170.7 L423.75 172.8 L428 175.3 L462.9 175.3 L465.4 177.4 L506.25 177.4" fill="none" stroke="#1a1a1a" stroke-width="1.15" stroke-dasharray="2.8 2.0" stroke-linejoin="miter" opacity="1.0"/>
<path d="M149.8 337.5 H26" fill="none" stroke="#3a3a3a" stroke-width="1.1"/>
<path d="M26 337.5 V254.5" fill="none" stroke="#3a3a3a" stroke-width="1.1"/>
<path d="M25.45 254.5 H111.2" fill="none" stroke="#3a3a3a" stroke-width="1.1"/>
<path d="M111.2 254.5 H150.35" fill="none" stroke="#d0d0d0" stroke-width="1.1"/>
<path d="M149.8 254.5 V337.5" fill="none" stroke="#3a3a3a" stroke-width="1.1"/>
<text x="24.4" y="338.12" font-size="5.0" text-anchor="end" font-weight="bold" fill="#111" stroke="#111" stroke-width="0.15">0</text>
<line x1="24.8" y1="336.15" x2="26" y2="336.15" stroke="#3a3a3a" stroke-width="0.6"/>
<text x="24.4" y="322.13" font-size="5.0" text-anchor="end" font-weight="bold" fill="#111" stroke="#111" stroke-width="0.15">20</text>
<line x1="24.8" y1="320.16" x2="26" y2="320.16" stroke="#3a3a3a" stroke-width="0.6"/>
<text x="24.4" y="306.14" font-size="5.0" text-anchor="end" font-weight="bold" fill="#111" stroke="#111" stroke-width="0.15">40</text>
<line x1="24.8" y1="304.17" x2="26" y2="304.17" stroke="#3a3a3a" stroke-width="0.6"/>
<text x="24.4" y="290.15" font-size="5.0" text-anchor="end" font-weight="bold" fill="#111" stroke="#111" stroke-width="0.15">60</text>
<line x1="24.8" y1="288.18" x2="26" y2="288.18" stroke="#3a3a3a" stroke-width="0.6"/>
<text x="24.4" y="274.16" font-size="5.0" text-anchor="end" font-weight="bold" fill="#111" stroke="#111" stroke-width="0.15">80</text>
<line x1="24.8" y1="272.19" x2="26" y2="272.19" stroke="#3a3a3a" stroke-width="0.6"/>
<text x="24.4" y="258.17" font-size="5.0" text-anchor="end" font-weight="bold" fill="#111" stroke="#111" stroke-width="0.15">100</text>
<line x1="24.8" y1="256.2" x2="26" y2="256.2" stroke="#3a3a3a" stroke-width="0.6"/>
<text x="26.6" y="345.87" font-size="5.0" text-anchor="middle" font-weight="bold" fill="#111" stroke="#111" stroke-width="0.15">0</text>
<line x1="26.6" y1="337.5" x2="26.6" y2="338.7" stroke="#3a3a3a" stroke-width="0.6"/>
<text x="35.3" y="345.87" font-size="5.0" text-anchor="middle" font-weight="bold" fill="#111" stroke="#111" stroke-width="0.15">1</text>
<line x1="35.3" y1="337.5" x2="35.3" y2="338.7" stroke="#3a3a3a" stroke-width="0.6"/>
<text x="44" y="345.87" font-size="5.0" text-anchor="middle" font-weight="bold" fill="#111" stroke="#111" stroke-width="0.15">2</text>
<line x1="44" y1="337.5" x2="44" y2="338.7" stroke="#3a3a3a" stroke-width="0.6"/>
<text x="52.7" y="345.87" font-size="5.0" text-anchor="middle" font-weight="bold" fill="#111" stroke="#111" stroke-width="0.15">3</text>
<line x1="52.7" y1="337.5" x2="52.7" y2="338.7" stroke="#3a3a3a" stroke-width="0.6"/>
<text x="61.4" y="345.87" font-size="5.0" text-anchor="middle" font-weight="bold" fill="#111" stroke="#111" stroke-width="0.15">4</text>
<line x1="61.4" y1="337.5" x2="61.4" y2="338.7" stroke="#3a3a3a" stroke-width="0.6"/>
<text x="70.1" y="345.87" font-size="5.0" text-anchor="middle" font-weight="bold" fill="#111" stroke="#111" stroke-width="0.15">5</text>
<line x1="70.1" y1="337.5" x2="70.1" y2="338.7" stroke="#3a3a3a" stroke-width="0.6"/>
<text x="78.8" y="345.87" font-size="5.0" text-anchor="middle" font-weight="bold" fill="#111" stroke="#111" stroke-width="0.15">6</text>
<line x1="78.8" y1="337.5" x2="78.8" y2="338.7" stroke="#3a3a3a" stroke-width="0.6"/>
<text x="87.5" y="345.87" font-size="5.0" text-anchor="middle" font-weight="bold" fill="#111" stroke="#111" stroke-width="0.15">7</text>
<line x1="87.5" y1="337.5" x2="87.5" y2="338.7" stroke="#3a3a3a" stroke-width="0.6"/>
<text x="96.2" y="345.87" font-size="5.0" text-anchor="middle" font-weight="bold" fill="#111" stroke="#111" stroke-width="0.15">8</text>
<line x1="96.2" y1="337.5" x2="96.2" y2="338.7" stroke="#3a3a3a" stroke-width="0.6"/>
<text x="104.9" y="345.87" font-size="5.0" text-anchor="middle" font-weight="bold" fill="#111" stroke="#111" stroke-width="0.15">9</text>
<line x1="104.9" y1="337.5" x2="104.9" y2="338.7" stroke="#3a3a3a" stroke-width="0.6"/>
<text x="113.6" y="345.87" font-size="5.0" text-anchor="middle" font-weight="bold" fill="#111" stroke="#111" stroke-width="0.15">10</text>
<line x1="113.6" y1="337.5" x2="113.6" y2="338.7" stroke="#3a3a3a" stroke-width="0.6"/>
<text x="122.3" y="345.87" font-size="5.0" text-anchor="middle" font-weight="bold" fill="#111" stroke="#111" stroke-width="0.15">11</text>
<line x1="122.3" y1="337.5" x2="122.3" y2="338.7" stroke="#3a3a3a" stroke-width="0.6"/>
<text x="131" y="345.87" font-size="5.0" text-anchor="middle" font-weight="bold" fill="#111" stroke="#111" stroke-width="0.15">12</text>
<line x1="131" y1="337.5" x2="131" y2="338.7" stroke="#3a3a3a" stroke-width="0.6"/>
<text x="139.7" y="345.87" font-size="5.0" text-anchor="middle" font-weight="bold" fill="#111" stroke="#111" stroke-width="0.15">13</text>
<line x1="139.7" y1="337.5" x2="139.7" y2="338.7" stroke="#3a3a3a" stroke-width="0.6"/>
<text x="148.4" y="345.87" font-size="5.0" text-anchor="middle" font-weight="bold" fill="#111" stroke="#111" stroke-width="0.15">14</text>
<line x1="148.4" y1="337.5" x2="148.4" y2="338.7" stroke="#3a3a3a" stroke-width="0.6"/>
<text x="1" y="251.1" font-size="12.2" text-anchor="start" font-weight="bold" fill="#000">G</text>
<text x="10.6" y="295.62" font-size="5.6" text-anchor="middle" font-weight="bold" fill="#111" transform="rotate(-90 10.6 295.62)" stroke="#111" stroke-width="0.1" textLength="45.65" lengthAdjust="spacingAndGlyphs" word-spacing="1.2">Percent Survival</text>
<path d="M26.25 255.3 L26.9 266.5 L29.2 271 L30.9 278 L33.2 283.1 L38.3 286 L40.6 288.3 L44.6 288.8 L51.5 289.4 L57.3 291.1 L60 293.5 L63.6 295.7 L69.9 297.4 L73.9 298.6 L78.8 300.5 L98.7 300.5 L99.6 301.7 L132.5 301.7 L133.3 304.3 L148.9 304.3" fill="none" stroke="#1a1a1a" stroke-width="1.15" stroke-linejoin="miter" opacity="1.0"/>
<path d="M26.25 255.3 L26.9 269.9 L28.6 277.9 L30.3 286 L33.2 292.8 L36.6 298 L42.3 301.4 L46.9 305.5 L97.9 305.5 L99.6 306.7 L124.7 306.7 L126.4 308.9 L147.7 308.9" fill="none" stroke="#1a1a1a" stroke-width="1.15" stroke-dasharray="2.8 2.0" stroke-linejoin="miter" opacity="1.0"/>
<path d="M212.7 254.5 H338.2 V339.2 H212.7 Z" fill="none" stroke="#3a3a3a" stroke-width="1.1"/>
<text x="211.1" y="340.12" font-size="5.0" text-anchor="end" font-weight="bold" fill="#111" stroke="#111" stroke-width="0.15">0</text>
<line x1="211.5" y1="338.15" x2="212.7" y2="338.15" stroke="#3a3a3a" stroke-width="0.6"/>
<text x="211.1" y="323.75" font-size="5.0" text-anchor="end" font-weight="bold" fill="#111" stroke="#111" stroke-width="0.15">20</text>
<line x1="211.5" y1="321.78" x2="212.7" y2="321.78" stroke="#3a3a3a" stroke-width="0.6"/>
<text x="211.1" y="307.38" font-size="5.0" text-anchor="end" font-weight="bold" fill="#111" stroke="#111" stroke-width="0.15">40</text>
<line x1="211.5" y1="305.41" x2="212.7" y2="305.41" stroke="#3a3a3a" stroke-width="0.6"/>
<text x="211.1" y="291.01" font-size="5.0" text-anchor="end" font-weight="bold" fill="#111" stroke="#111" stroke-width="0.15">60</text>
<line x1="211.5" y1="289.04" x2="212.7" y2="289.04" stroke="#3a3a3a" stroke-width="0.6"/>
<text x="211.1" y="274.64" font-size="5.0" text-anchor="end" font-weight="bold" fill="#111" stroke="#111" stroke-width="0.15">80</text>
<line x1="211.5" y1="272.67" x2="212.7" y2="272.67" stroke="#3a3a3a" stroke-width="0.6"/>
<text x="211.1" y="258.27" font-size="5.0" text-anchor="end" font-weight="bold" fill="#111" stroke="#111" stroke-width="0.15">100</text>
<line x1="211.5" y1="256.3" x2="212.7" y2="256.3" stroke="#3a3a3a" stroke-width="0.6"/>
<text x="213.5" y="348.07" font-size="5.0" text-anchor="middle" font-weight="bold" fill="#111" stroke="#111" stroke-width="0.15">0</text>
<line x1="213.5" y1="339.2" x2="213.5" y2="340.4" stroke="#3a3a3a" stroke-width="0.6"/>
<text x="222.3" y="348.07" font-size="5.0" text-anchor="middle" font-weight="bold" fill="#111" stroke="#111" stroke-width="0.15">1</text>
<line x1="222.3" y1="339.2" x2="222.3" y2="340.4" stroke="#3a3a3a" stroke-width="0.6"/>
<text x="231.1" y="348.07" font-size="5.0" text-anchor="middle" font-weight="bold" fill="#111" stroke="#111" stroke-width="0.15">2</text>
<line x1="231.1" y1="339.2" x2="231.1" y2="340.4" stroke="#3a3a3a" stroke-width="0.6"/>
<text x="239.9" y="348.07" font-size="5.0" text-anchor="middle" font-weight="bold" fill="#111" stroke="#111" stroke-width="0.15">3</text>
<line x1="239.9" y1="339.2" x2="239.9" y2="340.4" stroke="#3a3a3a" stroke-width="0.6"/>
<text x="248.7" y="348.07" font-size="5.0" text-anchor="middle" font-weight="bold" fill="#111" stroke="#111" stroke-width="0.15">4</text>
<line x1="248.7" y1="339.2" x2="248.7" y2="340.4" stroke="#3a3a3a" stroke-width="0.6"/>
<text x="257.5" y="348.07" font-size="5.0" text-anchor="middle" font-weight="bold" fill="#111" stroke="#111" stroke-width="0.15">5</text>
<line x1="257.5" y1="339.2" x2="257.5" y2="340.4" stroke="#3a3a3a" stroke-width="0.6"/>
<text x="266.3" y="348.07" font-size="5.0" text-anchor="middle" font-weight="bold" fill="#111" stroke="#111" stroke-width="0.15">6</text>
<line x1="266.3" y1="339.2" x2="266.3" y2="340.4" stroke="#3a3a3a" stroke-width="0.6"/>
<text x="275.1" y="348.07" font-size="5.0" text-anchor="middle" font-weight="bold" fill="#111" stroke="#111" stroke-width="0.15">7</text>
<line x1="275.1" y1="339.2" x2="275.1" y2="340.4" stroke="#3a3a3a" stroke-width="0.6"/>
<text x="283.9" y="348.07" font-size="5.0" text-anchor="middle" font-weight="bold" fill="#111" stroke="#111" stroke-width="0.15">8</text>
<line x1="283.9" y1="339.2" x2="283.9" y2="340.4" stroke="#3a3a3a" stroke-width="0.6"/>
<text x="292.7" y="348.07" font-size="5.0" text-anchor="middle" font-weight="bold" fill="#111" stroke="#111" stroke-width="0.15">9</text>
<line x1="292.7" y1="339.2" x2="292.7" y2="340.4" stroke="#3a3a3a" stroke-width="0.6"/>
<text x="301.5" y="348.07" font-size="5.0" text-anchor="middle" font-weight="bold" fill="#111" stroke="#111" stroke-width="0.15">10</text>
<line x1="301.5" y1="339.2" x2="301.5" y2="340.4" stroke="#3a3a3a" stroke-width="0.6"/>
<text x="310.3" y="348.07" font-size="5.0" text-anchor="middle" font-weight="bold" fill="#111" stroke="#111" stroke-width="0.15">11</text>
<line x1="310.3" y1="339.2" x2="310.3" y2="340.4" stroke="#3a3a3a" stroke-width="0.6"/>
<text x="319.1" y="348.07" font-size="5.0" text-anchor="middle" font-weight="bold" fill="#111" stroke="#111" stroke-width="0.15">12</text>
<line x1="319.1" y1="339.2" x2="319.1" y2="340.4" stroke="#3a3a3a" stroke-width="0.6"/>
<text x="327.9" y="348.07" font-size="5.0" text-anchor="middle" font-weight="bold" fill="#111" stroke="#111" stroke-width="0.15">13</text>
<line x1="327.9" y1="339.2" x2="327.9" y2="340.4" stroke="#3a3a3a" stroke-width="0.6"/>
<text x="336.7" y="348.07" font-size="5.0" text-anchor="middle" font-weight="bold" fill="#111" stroke="#111" stroke-width="0.15">14</text>
<line x1="336.7" y1="339.2" x2="336.7" y2="340.4" stroke="#3a3a3a" stroke-width="0.6"/>
<text x="190.1" y="250.6" font-size="12.2" text-anchor="start" font-weight="bold" fill="#000">H</text>
<text x="196.9" y="296.85" font-size="5.6" text-anchor="middle" font-weight="bold" fill="#111" transform="rotate(-90 196.9 296.85)" stroke="#111" stroke-width="0.1" textLength="36.9" lengthAdjust="spacingAndGlyphs" word-spacing="1.2">Percent&#160;&#160;NRM</text>
<text x="216.9" y="265" font-size="8.9" text-anchor="start" font-weight="bold" fill="#000" stroke="#000" stroke-width="0.12" letter-spacing="0.07">HR, 0.86; p=0.57</text>
<path d="M213.1 339.1 L213.75 329 L214.7 326.3 L216.4 323 L218.5 320.7 L222.5 320.3 L230.6 319.9 L234.6 319.3 L240 318.5 L245.4 317.6 L249.4 316.6 L253.5 316 L260.2 315.3 L264.2 314.5 L266.9 314 L286.6 313.8 L288.75 312.4 L320.5 312.4 L322 310.2 L337.8 310.2" fill="none" stroke="#1a1a1a" stroke-width="1.15" stroke-linejoin="miter" opacity="1.0"/>
<path d="M213.1 339.1 L213.75 327.7 L215.1 324.3 L217.1 319.6 L219.1 316.2 L221.2 314.2 L286.6 313.6 L288.75 312.2 L318 312.2 L320 311 L322 310 L337.8 310" fill="none" stroke="#1a1a1a" stroke-width="1.15" stroke-dasharray="2.8 2.0" stroke-linejoin="miter" opacity="1.0"/>
<path d="M515.7 338.6 H393" fill="none" stroke="#555" stroke-width="1.5"/>
<path d="M393 338.6 V254.3" fill="none" stroke="#858585" stroke-width="2.1"/>
<path d="M392.25 254.3 H477" fill="none" stroke="#555" stroke-width="1.5"/>
<path d="M477 254.3 H516.45" fill="none" stroke="#c0c0c0" stroke-width="1.5"/>
<path d="M515.7 254.3 V338.6" fill="none" stroke="#909090" stroke-width="1.5"/>
<text x="391.4" y="339.22" font-size="5.0" text-anchor="end" font-weight="bold" fill="#111" stroke="#111" stroke-width="0.15">0</text>
<line x1="391.8" y1="337.25" x2="393" y2="337.25" stroke="#3a3a3a" stroke-width="0.6"/>
<text x="391.4" y="322.97" font-size="5.0" text-anchor="end" font-weight="bold" fill="#111" stroke="#111" stroke-width="0.15">20</text>
<line x1="391.8" y1="321" x2="393" y2="321" stroke="#3a3a3a" stroke-width="0.6"/>
<text x="391.4" y="306.72" font-size="5.0" text-anchor="end" font-weight="bold" fill="#111" stroke="#111" stroke-width="0.15">40</text>
<line x1="391.8" y1="304.75" x2="393" y2="304.75" stroke="#3a3a3a" stroke-width="0.6"/>
<text x="391.4" y="290.47" font-size="5.0" text-anchor="end" font-weight="bold" fill="#111" stroke="#111" stroke-width="0.15">60</text>
<line x1="391.8" y1="288.5" x2="393" y2="288.5" stroke="#3a3a3a" stroke-width="0.6"/>
<text x="391.4" y="274.22" font-size="5.0" text-anchor="end" font-weight="bold" fill="#111" stroke="#111" stroke-width="0.15">80</text>
<line x1="391.8" y1="272.25" x2="393" y2="272.25" stroke="#3a3a3a" stroke-width="0.6"/>
<text x="391.4" y="257.97" font-size="5.0" text-anchor="end" font-weight="bold" fill="#111" stroke="#111" stroke-width="0.15">100</text>
<line x1="391.8" y1="256" x2="393" y2="256" stroke="#3a3a3a" stroke-width="0.6"/>
<text x="393.5" y="347.47" font-size="5.0" text-anchor="middle" font-weight="bold" fill="#111" stroke="#111" stroke-width="0.15">0</text>
<line x1="393.5" y1="338.6" x2="393.5" y2="339.8" stroke="#3a3a3a" stroke-width="0.6"/>
<text x="402.16" y="347.47" font-size="5.0" text-anchor="middle" font-weight="bold" fill="#111" stroke="#111" stroke-width="0.15">1</text>
<line x1="402.16" y1="338.6" x2="402.16" y2="339.8" stroke="#3a3a3a" stroke-width="0.6"/>
<text x="410.82" y="347.47" font-size="5.0" text-anchor="middle" font-weight="bold" fill="#111" stroke="#111" stroke-width="0.15">2</text>
<line x1="410.82" y1="338.6" x2="410.82" y2="339.8" stroke="#3a3a3a" stroke-width="0.6"/>
<text x="419.48" y="347.47" font-size="5.0" text-anchor="middle" font-weight="bold" fill="#111" stroke="#111" stroke-width="0.15">3</text>
<line x1="419.48" y1="338.6" x2="419.48" y2="339.8" stroke="#3a3a3a" stroke-width="0.6"/>
<text x="428.14" y="347.47" font-size="5.0" text-anchor="middle" font-weight="bold" fill="#111" stroke="#111" stroke-width="0.15">4</text>
<line x1="428.14" y1="338.6" x2="428.14" y2="339.8" stroke="#3a3a3a" stroke-width="0.6"/>
<text x="436.8" y="347.47" font-size="5.0" text-anchor="middle" font-weight="bold" fill="#111" stroke="#111" stroke-width="0.15">5</text>
<line x1="436.8" y1="338.6" x2="436.8" y2="339.8" stroke="#3a3a3a" stroke-width="0.6"/>
<text x="445.46" y="347.47" font-size="5.0" text-anchor="middle" font-weight="bold" fill="#111" stroke="#111" stroke-width="0.15">6</text>
<line x1="445.46" y1="338.6" x2="445.46" y2="339.8" stroke="#3a3a3a" stroke-width="0.6"/>
<text x="454.12" y="347.47" font-size="5.0" text-anchor="middle" font-weight="bold" fill="#111" stroke="#111" stroke-width="0.15">7</text>
<line x1="454.12" y1="338.6" x2="454.12" y2="339.8" stroke="#3a3a3a" stroke-width="0.6"/>
<text x="462.78" y="347.47" font-size="5.0" text-anchor="middle" font-weight="bold" fill="#111" stroke="#111" stroke-width="0.15">8</text>
<line x1="462.78" y1="338.6" x2="462.78" y2="339.8" stroke="#3a3a3a" stroke-width="0.6"/>
<text x="471.44" y="347.47" font-size="5.0" text-anchor="middle" font-weight="bold" fill="#111" stroke="#111" stroke-width="0.15">9</text>
<line x1="471.44" y1="338.6" x2="471.44" y2="339.8" stroke="#3a3a3a" stroke-width="0.6"/>
<text x="480.1" y="347.47" font-size="5.0" text-anchor="middle" font-weight="bold" fill="#111" stroke="#111" stroke-width="0.15">10</text>
<line x1="480.1" y1="338.6" x2="480.1" y2="339.8" stroke="#3a3a3a" stroke-width="0.6"/>
<text x="488.76" y="347.47" font-size="5.0" text-anchor="middle" font-weight="bold" fill="#111" stroke="#111" stroke-width="0.15">11</text>
<line x1="488.76" y1="338.6" x2="488.76" y2="339.8" stroke="#3a3a3a" stroke-width="0.6"/>
<text x="497.42" y="347.47" font-size="5.0" text-anchor="middle" font-weight="bold" fill="#111" stroke="#111" stroke-width="0.15">12</text>
<line x1="497.42" y1="338.6" x2="497.42" y2="339.8" stroke="#3a3a3a" stroke-width="0.6"/>
<text x="506.08" y="347.47" font-size="5.0" text-anchor="middle" font-weight="bold" fill="#111" stroke="#111" stroke-width="0.15">13</text>
<line x1="506.08" y1="338.6" x2="506.08" y2="339.8" stroke="#3a3a3a" stroke-width="0.6"/>
<text x="514.74" y="347.47" font-size="5.0" text-anchor="middle" font-weight="bold" fill="#111" stroke="#111" stroke-width="0.15">14</text>
<line x1="514.74" y1="338.6" x2="514.74" y2="339.8" stroke="#3a3a3a" stroke-width="0.6"/>
<text x="363.5" y="250.5" font-size="12.2" text-anchor="start" font-weight="bold" fill="#000">I</text>
<text x="376.75" y="294.68" font-size="5.6" text-anchor="middle" font-weight="bold" fill="#111" transform="rotate(-90 376.75 294.68)" stroke="#111" stroke-width="0.1" textLength="42.55" lengthAdjust="spacingAndGlyphs" word-spacing="1.2">Percent Relapse</text>
<text x="398.3" y="265" font-size="8.9" text-anchor="start" font-weight="bold" fill="#000" stroke="#000" stroke-width="0.12" letter-spacing="0.07">HR, 0.45; p=0.01</text>
<text x="454.7" y="357.6" font-size="6.2" text-anchor="middle" font-weight="bold" fill="#111" stroke="#111" stroke-width="0.1" textLength="61" lengthAdjust="spacingAndGlyphs" word-spacing="1.4">Years from Transplant</text>
<path d="M393.3 337.1 L395.8 333.1 L398.5 330.4 L401.8 328 L405.2 326.3 L413.9 326.3 L417.3 324.7 L421.3 323.6 L424.7 322.6 L436.8 322.6 L438.8 321.6 L478.4 321.6 L480.6 320 L515 320" fill="none" stroke="#1a1a1a" stroke-width="1.15" stroke-linejoin="miter" opacity="1.0"/>
<path d="M393.3 337.1 L395.1 330.4 L398.5 325.7 L403.2 320.3 L407.2 316.6 L410.6 314.2 L416 314.9 L421.3 314 L425.4 312.9 L430.8 311.3 L458.75 310.8 L462 310 L514.5 310" fill="none" stroke="#1a1a1a" stroke-width="1.15" stroke-dasharray="2.8 2.0" stroke-linejoin="miter" opacity="1.0"/>
<path d="M26.4 375.7 H149.95 V459.4 H26.4 Z" fill="none" stroke="#3a3a3a" stroke-width="1.1"/>
<text x="24.8" y="460.07" font-size="5.0" text-anchor="end" font-weight="bold" fill="#111" stroke="#111" stroke-width="0.15">0</text>
<line x1="25.2" y1="458.1" x2="26.4" y2="458.1" stroke="#3a3a3a" stroke-width="0.6"/>
<text x="24.8" y="444.03" font-size="5.0" text-anchor="end" font-weight="bold" fill="#111" stroke="#111" stroke-width="0.15">20</text>
<line x1="25.2" y1="442.06" x2="26.4" y2="442.06" stroke="#3a3a3a" stroke-width="0.6"/>
<text x="24.8" y="427.99" font-size="5.0" text-anchor="end" font-weight="bold" fill="#111" stroke="#111" stroke-width="0.15">40</text>
<line x1="25.2" y1="426.02" x2="26.4" y2="426.02" stroke="#3a3a3a" stroke-width="0.6"/>
<text x="24.8" y="411.95" font-size="5.0" text-anchor="end" font-weight="bold" fill="#111" stroke="#111" stroke-width="0.15">60</text>
<line x1="25.2" y1="409.98" x2="26.4" y2="409.98" stroke="#3a3a3a" stroke-width="0.6"/>
<text x="24.8" y="395.91" font-size="5.0" text-anchor="end" font-weight="bold" fill="#111" stroke="#111" stroke-width="0.15">80</text>
<line x1="25.2" y1="393.94" x2="26.4" y2="393.94" stroke="#3a3a3a" stroke-width="0.6"/>
<text x="24.8" y="379.87" font-size="5.0" text-anchor="end" font-weight="bold" fill="#111" stroke="#111" stroke-width="0.15">100</text>
<line x1="25.2" y1="377.9" x2="26.4" y2="377.9" stroke="#3a3a3a" stroke-width="0.6"/>
<text x="26.9" y="468.17" font-size="5.0" text-anchor="middle" font-weight="bold" fill="#111" stroke="#111" stroke-width="0.15">0</text>
<line x1="26.9" y1="459.4" x2="26.9" y2="460.6" stroke="#3a3a3a" stroke-width="0.6"/>
<text x="35.59" y="468.17" font-size="5.0" text-anchor="middle" font-weight="bold" fill="#111" stroke="#111" stroke-width="0.15">1</text>
<line x1="35.59" y1="459.4" x2="35.59" y2="460.6" stroke="#3a3a3a" stroke-width="0.6"/>
<text x="44.28" y="468.17" font-size="5.0" text-anchor="middle" font-weight="bold" fill="#111" stroke="#111" stroke-width="0.15">2</text>
<line x1="44.28" y1="459.4" x2="44.28" y2="460.6" stroke="#3a3a3a" stroke-width="0.6"/>
<text x="52.97" y="468.17" font-size="5.0" text-anchor="middle" font-weight="bold" fill="#111" stroke="#111" stroke-width="0.15">3</text>
<line x1="52.97" y1="459.4" x2="52.97" y2="460.6" stroke="#3a3a3a" stroke-width="0.6"/>
<text x="61.66" y="468.17" font-size="5.0" text-anchor="middle" font-weight="bold" fill="#111" stroke="#111" stroke-width="0.15">4</text>
<line x1="61.66" y1="459.4" x2="61.66" y2="460.6" stroke="#3a3a3a" stroke-width="0.6"/>
<text x="70.35" y="468.17" font-size="5.0" text-anchor="middle" font-weight="bold" fill="#111" stroke="#111" stroke-width="0.15">5</text>
<line x1="70.35" y1="459.4" x2="70.35" y2="460.6" stroke="#3a3a3a" stroke-width="0.6"/>
<text x="79.04" y="468.17" font-size="5.0" text-anchor="middle" font-weight="bold" fill="#111" stroke="#111" stroke-width="0.15">6</text>
<line x1="79.04" y1="459.4" x2="79.04" y2="460.6" stroke="#3a3a3a" stroke-width="0.6"/>
<text x="87.73" y="468.17" font-size="5.0" text-anchor="middle" font-weight="bold" fill="#111" stroke="#111" stroke-width="0.15">7</text>
<line x1="87.73" y1="459.4" x2="87.73" y2="460.6" stroke="#3a3a3a" stroke-width="0.6"/>
<text x="96.42" y="468.17" font-size="5.0" text-anchor="middle" font-weight="bold" fill="#111" stroke="#111" stroke-width="0.15">8</text>
<line x1="96.42" y1="459.4" x2="96.42" y2="460.6" stroke="#3a3a3a" stroke-width="0.6"/>
<text x="105.11" y="468.17" font-size="5.0" text-anchor="middle" font-weight="bold" fill="#111" stroke="#111" stroke-width="0.15">9</text>
<line x1="105.11" y1="459.4" x2="105.11" y2="460.6" stroke="#3a3a3a" stroke-width="0.6"/>
<text x="113.8" y="468.17" font-size="5.0" text-anchor="middle" font-weight="bold" fill="#111" stroke="#111" stroke-width="0.15">10</text>
<line x1="113.8" y1="459.4" x2="113.8" y2="460.6" stroke="#3a3a3a" stroke-width="0.6"/>
<text x="122.49" y="468.17" font-size="5.0" text-anchor="middle" font-weight="bold" fill="#111" stroke="#111" stroke-width="0.15">11</text>
<line x1="122.49" y1="459.4" x2="122.49" y2="460.6" stroke="#3a3a3a" stroke-width="0.6"/>
<text x="131.18" y="468.17" font-size="5.0" text-anchor="middle" font-weight="bold" fill="#111" stroke="#111" stroke-width="0.15">12</text>
<line x1="131.18" y1="459.4" x2="131.18" y2="460.6" stroke="#3a3a3a" stroke-width="0.6"/>
<text x="139.87" y="468.17" font-size="5.0" text-anchor="middle" font-weight="bold" fill="#111" stroke="#111" stroke-width="0.15">13</text>
<line x1="139.87" y1="459.4" x2="139.87" y2="460.6" stroke="#3a3a3a" stroke-width="0.6"/>
<text x="148.56" y="468.17" font-size="5.0" text-anchor="middle" font-weight="bold" fill="#111" stroke="#111" stroke-width="0.15">14</text>
<line x1="148.56" y1="459.4" x2="148.56" y2="460.6" stroke="#3a3a3a" stroke-width="0.6"/>
<text x="0.8" y="372.6" font-size="12.2" text-anchor="start" font-weight="bold" fill="#000">J</text>
<text x="7.6" y="419.5" font-size="5.6" text-anchor="middle" font-weight="bold" fill="#111" transform="rotate(-90 7.6 419.5)" stroke="#111" stroke-width="0.1" textLength="82.4" lengthAdjust="spacingAndGlyphs" word-spacing="1.2">Percent Disease-free Survival</text>
<text x="87.95" y="477.8" font-size="6.2" text-anchor="middle" font-weight="bold" fill="#111" stroke="#111" stroke-width="0.1" textLength="60.5" lengthAdjust="spacingAndGlyphs" word-spacing="1.4">Years from Transplant</text>
<path d="M27 377.3 L28 386 L29 394.1 L30.2 400.6 L31.7 405 L34.6 408.2 L38.2 410.1 L44.1 410.1 L46.25 411.1 L49.2 413 L53.5 415.9 L57.9 418.1 L63.75 420.75 L72.5 421 L76.1 422.2 L79.8 423.5 L99.6 423.5 L100.3 424.8 L112.7 424.8 L114.2 426.25 L133.1 426.25 L134.6 429.2 L149.2 429.2" fill="none" stroke="#1a1a1a" stroke-width="1.15" stroke-linejoin="miter" opacity="1.0"/>
<path d="M27 377.3 L28 395.5 L29 403.5 L30.9 411.6 L33.9 419.6 L37.5 424.7 L41.1 428.3 L44.1 432 L58.6 432 L60.1 433.4 L93.75 433.5 L99.6 435.7 L125.8 435.7 L127.3 439.1 L147.7 439.1" fill="none" stroke="#1a1a1a" stroke-width="1.15" stroke-dasharray="2.8 2.0" stroke-linejoin="miter" opacity="1.0"/>
<path d="M214.9 376.4 H339.6 V461.8 H214.9 Z" fill="none" stroke="#3a3a3a" stroke-width="1.1"/>
<text x="213.3" y="462.37" font-size="5.0" text-anchor="end" font-weight="bold" fill="#111" stroke="#111" stroke-width="0.15">0</text>
<line x1="213.7" y1="460.4" x2="214.9" y2="460.4" stroke="#3a3a3a" stroke-width="0.6"/>
<text x="213.3" y="445.91" font-size="5.0" text-anchor="end" font-weight="bold" fill="#111" stroke="#111" stroke-width="0.15">20</text>
<line x1="213.7" y1="443.94" x2="214.9" y2="443.94" stroke="#3a3a3a" stroke-width="0.6"/>
<text x="213.3" y="429.45" font-size="5.0" text-anchor="end" font-weight="bold" fill="#111" stroke="#111" stroke-width="0.15">40</text>
<line x1="213.7" y1="427.48" x2="214.9" y2="427.48" stroke="#3a3a3a" stroke-width="0.6"/>
<text x="213.3" y="412.99" font-size="5.0" text-anchor="end" font-weight="bold" fill="#111" stroke="#111" stroke-width="0.15">60</text>
<line x1="213.7" y1="411.02" x2="214.9" y2="411.02" stroke="#3a3a3a" stroke-width="0.6"/>
<text x="213.3" y="396.53" font-size="5.0" text-anchor="end" font-weight="bold" fill="#111" stroke="#111" stroke-width="0.15">80</text>
<line x1="213.7" y1="394.56" x2="214.9" y2="394.56" stroke="#3a3a3a" stroke-width="0.6"/>
<text x="213.3" y="380.07" font-size="5.0" text-anchor="end" font-weight="bold" fill="#111" stroke="#111" stroke-width="0.15">100</text>
<line x1="213.7" y1="378.1" x2="214.9" y2="378.1" stroke="#3a3a3a" stroke-width="0.6"/>
<text x="215.5" y="470.47" font-size="5.0" text-anchor="middle" font-weight="bold" fill="#111" stroke="#111" stroke-width="0.15">0</text>
<line x1="215.5" y1="461.8" x2="215.5" y2="463" stroke="#3a3a3a" stroke-width="0.6"/>
<text x="224.25" y="470.47" font-size="5.0" text-anchor="middle" font-weight="bold" fill="#111" stroke="#111" stroke-width="0.15">1</text>
<line x1="224.25" y1="461.8" x2="224.25" y2="463" stroke="#3a3a3a" stroke-width="0.6"/>
<text x="233" y="470.47" font-size="5.0" text-anchor="middle" font-weight="bold" fill="#111" stroke="#111" stroke-width="0.15">2</text>
<line x1="233" y1="461.8" x2="233" y2="463" stroke="#3a3a3a" stroke-width="0.6"/>
<text x="241.75" y="470.47" font-size="5.0" text-anchor="middle" font-weight="bold" fill="#111" stroke="#111" stroke-width="0.15">3</text>
<line x1="241.75" y1="461.8" x2="241.75" y2="463" stroke="#3a3a3a" stroke-width="0.6"/>
<text x="250.5" y="470.47" font-size="5.0" text-anchor="middle" font-weight="bold" fill="#111" stroke="#111" stroke-width="0.15">4</text>
<line x1="250.5" y1="461.8" x2="250.5" y2="463" stroke="#3a3a3a" stroke-width="0.6"/>
<text x="259.25" y="470.47" font-size="5.0" text-anchor="middle" font-weight="bold" fill="#111" stroke="#111" stroke-width="0.15">5</text>
<line x1="259.25" y1="461.8" x2="259.25" y2="463" stroke="#3a3a3a" stroke-width="0.6"/>
<text x="268" y="470.47" font-size="5.0" text-anchor="middle" font-weight="bold" fill="#111" stroke="#111" stroke-width="0.15">6</text>
<line x1="268" y1="461.8" x2="268" y2="463" stroke="#3a3a3a" stroke-width="0.6"/>
<text x="276.75" y="470.47" font-size="5.0" text-anchor="middle" font-weight="bold" fill="#111" stroke="#111" stroke-width="0.15">7</text>
<line x1="276.75" y1="461.8" x2="276.75" y2="463" stroke="#3a3a3a" stroke-width="0.6"/>
<text x="285.5" y="470.47" font-size="5.0" text-anchor="middle" font-weight="bold" fill="#111" stroke="#111" stroke-width="0.15">8</text>
<line x1="285.5" y1="461.8" x2="285.5" y2="463" stroke="#3a3a3a" stroke-width="0.6"/>
<text x="294.25" y="470.47" font-size="5.0" text-anchor="middle" font-weight="bold" fill="#111" stroke="#111" stroke-width="0.15">9</text>
<line x1="294.25" y1="461.8" x2="294.25" y2="463" stroke="#3a3a3a" stroke-width="0.6"/>
<text x="303" y="470.47" font-size="5.0" text-anchor="middle" font-weight="bold" fill="#111" stroke="#111" stroke-width="0.15">10</text>
<line x1="303" y1="461.8" x2="303" y2="463" stroke="#3a3a3a" stroke-width="0.6"/>
<text x="311.75" y="470.47" font-size="5.0" text-anchor="middle" font-weight="bold" fill="#111" stroke="#111" stroke-width="0.15">11</text>
<line x1="311.75" y1="461.8" x2="311.75" y2="463" stroke="#3a3a3a" stroke-width="0.6"/>
<text x="320.5" y="470.47" font-size="5.0" text-anchor="middle" font-weight="bold" fill="#111" stroke="#111" stroke-width="0.15">12</text>
<line x1="320.5" y1="461.8" x2="320.5" y2="463" stroke="#3a3a3a" stroke-width="0.6"/>
<text x="329.25" y="470.47" font-size="5.0" text-anchor="middle" font-weight="bold" fill="#111" stroke="#111" stroke-width="0.15">13</text>
<line x1="329.25" y1="461.8" x2="329.25" y2="463" stroke="#3a3a3a" stroke-width="0.6"/>
<text x="338" y="470.47" font-size="5.0" text-anchor="middle" font-weight="bold" fill="#111" stroke="#111" stroke-width="0.15">14</text>
<line x1="338" y1="461.8" x2="338" y2="463" stroke="#3a3a3a" stroke-width="0.6"/>
<text x="190.1" y="372" font-size="12.2" text-anchor="start" font-weight="bold" fill="#000">K</text>
<text x="199.2" y="419.15" font-size="5.6" text-anchor="middle" font-weight="bold" fill="#111" transform="rotate(-90 199.2 419.15)" stroke="#111" stroke-width="0.1" textLength="67.7" lengthAdjust="spacingAndGlyphs" word-spacing="1.2">Percent&#160;&#160;Chronic&#160;&#160;GVHD</text>
<text x="217.3" y="387.2" font-size="8.9" text-anchor="start" font-weight="bold" fill="#000" stroke="#000" stroke-width="0.12" letter-spacing="0.07">HR, 1.16; p=0.55</text>
<text x="276.95" y="478.6" font-size="6.2" text-anchor="middle" font-weight="bold" fill="#111" stroke="#111" stroke-width="0.1" textLength="62.5" lengthAdjust="spacingAndGlyphs" word-spacing="1.4">Years from Transplant</text>
<path d="M216 461.6 L217.8 459.6 L218.9 453.75 L220.3 439.2 L221.8 427.5 L223.2 425.3 L225.4 423.3 L227.6 422.2 L229.8 421.2 L339 421.2" fill="none" stroke="#1a1a1a" stroke-width="1.15" stroke-linejoin="miter" opacity="1.0"/>
<path d="M216 461.6 L217.8 459.6 L218.9 453.75 L220.3 439.2 L221.8 431.1 L223.2 430.4 L245.8 430.4 L248.75 429.25 L339 429.25" fill="none" stroke="#1a1a1a" stroke-width="1.15" stroke-dasharray="2.8 2.0" stroke-linejoin="miter" opacity="1.0"/>
<path d="M391.7 375.6 H517.2 V460 H391.7 Z" fill="none" stroke="#3a3a3a" stroke-width="1.1"/>
<text x="390.1" y="460.22" font-size="5.0" text-anchor="end" font-weight="bold" fill="#111" stroke="#111" stroke-width="0.15">0</text>
<line x1="390.5" y1="458.25" x2="391.7" y2="458.25" stroke="#3a3a3a" stroke-width="0.6"/>
<text x="390.1" y="443.97" font-size="5.0" text-anchor="end" font-weight="bold" fill="#111" stroke="#111" stroke-width="0.15">20</text>
<line x1="390.5" y1="442" x2="391.7" y2="442" stroke="#3a3a3a" stroke-width="0.6"/>
<text x="390.1" y="427.72" font-size="5.0" text-anchor="end" font-weight="bold" fill="#111" stroke="#111" stroke-width="0.15">40</text>
<line x1="390.5" y1="425.75" x2="391.7" y2="425.75" stroke="#3a3a3a" stroke-width="0.6"/>
<text x="390.1" y="411.47" font-size="5.0" text-anchor="end" font-weight="bold" fill="#111" stroke="#111" stroke-width="0.15">60</text>
<line x1="390.5" y1="409.5" x2="391.7" y2="409.5" stroke="#3a3a3a" stroke-width="0.6"/>
<text x="390.1" y="395.22" font-size="5.0" text-anchor="end" font-weight="bold" fill="#111" stroke="#111" stroke-width="0.15">80</text>
<line x1="390.5" y1="393.25" x2="391.7" y2="393.25" stroke="#3a3a3a" stroke-width="0.6"/>
<text x="390.1" y="378.97" font-size="5.0" text-anchor="end" font-weight="bold" fill="#111" stroke="#111" stroke-width="0.15">100</text>
<line x1="390.5" y1="377" x2="391.7" y2="377" stroke="#3a3a3a" stroke-width="0.6"/>
<text x="392.3" y="468.47" font-size="5.0" text-anchor="middle" font-weight="bold" fill="#111" stroke="#111" stroke-width="0.15">0</text>
<line x1="392.3" y1="460" x2="392.3" y2="461.2" stroke="#3a3a3a" stroke-width="0.6"/>
<text x="401.15" y="468.47" font-size="5.0" text-anchor="middle" font-weight="bold" fill="#111" stroke="#111" stroke-width="0.15">1</text>
<line x1="401.15" y1="460" x2="401.15" y2="461.2" stroke="#3a3a3a" stroke-width="0.6"/>
<text x="410" y="468.47" font-size="5.0" text-anchor="middle" font-weight="bold" fill="#111" stroke="#111" stroke-width="0.15">2</text>
<line x1="410" y1="460" x2="410" y2="461.2" stroke="#3a3a3a" stroke-width="0.6"/>
<text x="418.85" y="468.47" font-size="5.0" text-anchor="middle" font-weight="bold" fill="#111" stroke="#111" stroke-width="0.15">3</text>
<line x1="418.85" y1="460" x2="418.85" y2="461.2" stroke="#3a3a3a" stroke-width="0.6"/>
<text x="427.7" y="468.47" font-size="5.0" text-anchor="middle" font-weight="bold" fill="#111" stroke="#111" stroke-width="0.15">4</text>
<line x1="427.7" y1="460" x2="427.7" y2="461.2" stroke="#3a3a3a" stroke-width="0.6"/>
<text x="436.55" y="468.47" font-size="5.0" text-anchor="middle" font-weight="bold" fill="#111" stroke="#111" stroke-width="0.15">5</text>
<line x1="436.55" y1="460" x2="436.55" y2="461.2" stroke="#3a3a3a" stroke-width="0.6"/>
<text x="445.4" y="468.47" font-size="5.0" text-anchor="middle" font-weight="bold" fill="#111" stroke="#111" stroke-width="0.15">6</text>
<line x1="445.4" y1="460" x2="445.4" y2="461.2" stroke="#3a3a3a" stroke-width="0.6"/>
<text x="454.25" y="468.47" font-size="5.0" text-anchor="middle" font-weight="bold" fill="#111" stroke="#111" stroke-width="0.15">7</text>
<line x1="454.25" y1="460" x2="454.25" y2="461.2" stroke="#3a3a3a" stroke-width="0.6"/>
<text x="463.1" y="468.47" font-size="5.0" text-anchor="middle" font-weight="bold" fill="#111" stroke="#111" stroke-width="0.15">8</text>
<line x1="463.1" y1="460" x2="463.1" y2="461.2" stroke="#3a3a3a" stroke-width="0.6"/>
<text x="471.95" y="468.47" font-size="5.0" text-anchor="middle" font-weight="bold" fill="#111" stroke="#111" stroke-width="0.15">9</text>
<line x1="471.95" y1="460" x2="471.95" y2="461.2" stroke="#3a3a3a" stroke-width="0.6"/>
<text x="480.8" y="468.47" font-size="5.0" text-anchor="middle" font-weight="bold" fill="#111" stroke="#111" stroke-width="0.15">10</text>
<line x1="480.8" y1="460" x2="480.8" y2="461.2" stroke="#3a3a3a" stroke-width="0.6"/>
<text x="489.65" y="468.47" font-size="5.0" text-anchor="middle" font-weight="bold" fill="#111" stroke="#111" stroke-width="0.15">11</text>
<line x1="489.65" y1="460" x2="489.65" y2="461.2" stroke="#3a3a3a" stroke-width="0.6"/>
<text x="498.5" y="468.47" font-size="5.0" text-anchor="middle" font-weight="bold" fill="#111" stroke="#111" stroke-width="0.15">12</text>
<line x1="498.5" y1="460" x2="498.5" y2="461.2" stroke="#3a3a3a" stroke-width="0.6"/>
<text x="507.35" y="468.47" font-size="5.0" text-anchor="middle" font-weight="bold" fill="#111" stroke="#111" stroke-width="0.15">13</text>
<line x1="507.35" y1="460" x2="507.35" y2="461.2" stroke="#3a3a3a" stroke-width="0.6"/>
<text x="516.2" y="468.47" font-size="5.0" text-anchor="middle" font-weight="bold" fill="#111" stroke="#111" stroke-width="0.15">14</text>
<line x1="516.2" y1="460" x2="516.2" y2="461.2" stroke="#3a3a3a" stroke-width="0.6"/>
<text x="363.9" y="372.2" font-size="12.2" text-anchor="start" font-weight="bold" fill="#000">L</text>
<text x="370.4" y="419.55" font-size="5.4" text-anchor="middle" font-weight="bold" fill="#111" transform="rotate(-90 370.4 419.55)" stroke="#111" stroke-width="0.1" textLength="75.3" lengthAdjust="spacingAndGlyphs" word-spacing="1.2">Percent Discontinuation All IS</text>
<text x="377" y="420.95" font-size="5.4" text-anchor="middle" font-weight="bold" fill="#111" transform="rotate(-90 377 420.95)" stroke="#111" stroke-width="0.1" textLength="55.7" lengthAdjust="spacingAndGlyphs" word-spacing="1.2">vs Relapse or Death</text>
<text x="445.7" y="385.3" font-size="8.9" text-anchor="start" font-weight="bold" fill="#000" stroke="#000" stroke-width="0.12" letter-spacing="0.07">HR, 0.83; p=0.64</text>
<text x="454.2" y="478.6" font-size="6.2" text-anchor="middle" font-weight="bold" fill="#111" stroke="#111" stroke-width="0.1" textLength="74" lengthAdjust="spacingAndGlyphs" word-spacing="1.4">Years from Chronic GVHD</text>
<path d="M392.4 376.6 L393.5 380.9 L395.2 385 L398.65 385.5 L399.2 387.3 L408.5 387.3 L409 390.1 L410.8 391.3 L414.2 391.3 L414.8 393.6 L417.7 394.2 L418.3 395.3 L421.1 395.9 L422.3 397.6 L423.4 400.5 L433.25 400.5 L433.8 401.7 L436.1 402.8 L436.7 404.5 L499.9 404.5" fill="none" stroke="#9a9a9a" stroke-width="1.15" stroke-linejoin="miter" opacity="1.0"/>
<path d="M392.4 376.6 L394 386.7 L395.8 393.6 L397.5 400.5 L399.8 404 L401.5 407.4 L403.8 409.8 L407.3 410.7 L408.5 412.1 L488.8 412.1 L489.5 415.2 L503 415.2" fill="none" stroke="#9a9a9a" stroke-width="1.15" stroke-dasharray="2.8 2.0" stroke-linejoin="miter" opacity="1.0"/>
<path d="M392 459 L396.3 456.5 L402.1 455.9 L402.7 453.1 L404.4 453.1 L405 450.2 L407.3 449.6 L407.9 447.9 L410.2 447.3 L412.5 446.1 L413.1 445.2 L415.4 443.8 L416.5 442.1 L418.3 441 L420 438.6 L421.1 437.5 L421.7 434.6 L432.1 434.6 L432.7 431.1 L437.3 430.2 L438.4 429.4 L440.75 424.2 L442.5 420.2 L443.6 419.5 L454.1 419.5 L455.5 417.9 L462.2 417.9 L463.55 415.2 L489.1 415.2 L489.8 412.1 L499.9 412.1" fill="none" stroke="#1a1a1a" stroke-width="1.15" stroke-linejoin="miter" opacity="1.0"/>
<path d="M392 459 L395.2 458.3 L398.1 453.1 L400.4 448.4 L406.1 447.9 L409 443.8 L411.9 439.2 L414.8 435.2 L417.7 430 L421.1 426.5 L424.6 423.7 L426.9 422.5 L440.75 422.2 L442.5 421 L457.5 419.5 L458 418.9 L504.3 418.9 L504.3 415.2 L501.2 415.2" fill="none" stroke="#1a1a1a" stroke-width="1.15" stroke-dasharray="2.8 2.0" stroke-linejoin="miter" opacity="1.0"/>
<path d="M115.2 20.4 L127.8 20.4" fill="none" stroke="#1a1a1a" stroke-width="1.0" stroke-linejoin="miter" opacity="1.0"/>
<path d="M115.2 24.7 L128 24.7" fill="none" stroke="#1a1a1a" stroke-width="1.0" stroke-dasharray="2.5 2.5" stroke-linejoin="miter" opacity="1.0"/>
<line x1="116.5" y1="28" x2="116.5" y2="30.6" stroke="#c4c4c4" stroke-width="0.9"/>
<line x1="121.2" y1="28" x2="121.2" y2="30.6" stroke="#c4c4c4" stroke-width="0.9"/>
<line x1="126.2" y1="28" x2="126.2" y2="30.6" stroke="#c4c4c4" stroke-width="0.9"/>
<text x="129" y="21.8" font-size="3.7" text-anchor="start" font-weight="bold" fill="#111" stroke="#111" stroke-width="0.15">PBSC</text>
<text x="129" y="26.2" font-size="3.7" text-anchor="start" font-weight="bold" fill="#111" stroke="#111" stroke-width="0.15">BM</text>
<text x="129" y="30.7" font-size="3.7" text-anchor="start" font-weight="bold" fill="#111" stroke="#111" stroke-width="0.15">Censored</text>
<path d="M465 441 L476.9 441" fill="none" stroke="#1a1a1a" stroke-width="1.0" stroke-linejoin="miter" opacity="1.0"/>
<path d="M465 445 L476.9 445" fill="none" stroke="#1a1a1a" stroke-width="1.0" stroke-dasharray="2.5 2" stroke-linejoin="miter" opacity="1.0"/>
<path d="M465 449.75 L476.9 449.75" fill="none" stroke="#9a9a9a" stroke-width="0.9" stroke-linejoin="miter" opacity="1.0"/>
<path d="M465 454 L476.9 454" fill="none" stroke="#9a9a9a" stroke-width="0.9" stroke-dasharray="2.5 2" stroke-linejoin="miter" opacity="1.0"/>
<text x="478.5" y="442.4" font-size="3.6" text-anchor="start" font-weight="bold" fill="#111" stroke="#111" stroke-width="0.15">PBSC&#160;&#160;OR&#160;&#160;IST</text>
<text x="478.5" y="446.4" font-size="3.6" text-anchor="start" font-weight="bold" fill="#111" stroke="#111" stroke-width="0.15">BM&#160;&#160;OR&#160;&#160;IST</text>
<text x="478.5" y="451.2" font-size="3.6" text-anchor="start" font-weight="bold" fill="#111" stroke="#111" stroke-width="0.15">PBSC&#160;&#160;Death/relapse</text>
<text x="478.5" y="455.4" font-size="3.6" text-anchor="start" font-weight="bold" fill="#111" stroke="#111" stroke-width="0.15">BM&#160;&#160;Death/relapse</text>
</g>
</svg>
</body></html>
